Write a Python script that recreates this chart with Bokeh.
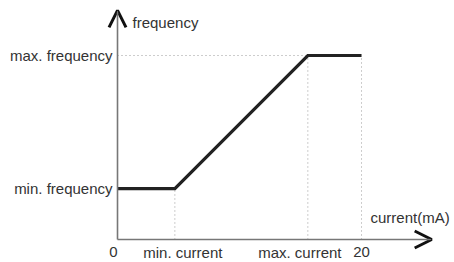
from bokeh.plotting import figure
from bokeh.models import Arrow, OpenHead, Range1d
from bokeh.core.properties import value
from bokeh.embed import file_html
from bokeh.resources import INLINE

# ---- data (diagram units: current in mA, frequency in % of max) ----
min_current = 4.7
max_current = 15.6
full_scale = 20
min_freq = 27.7
max_freq = 100

curve_x = [0, min_current, max_current, full_scale]
curve_y = [min_freq, min_freq, max_freq, max_freq]

x_tick_pos = [0, min_current, max_current, full_scale]
x_tick_labels = ["0", "min. current", "max. current", "20"]
y_tick_pos = [min_freq, max_freq]
y_tick_labels = ["min. frequency", "max. frequency"]

FONT = "Liberation Sans"
TXT = "#333333"

p = figure(width=454, height=262, output_backend="svg", toolbar_location=None,
           min_border=0, x_range=Range1d(-9.59, 27.62), y_range=Range1d(-12.5, 129.89))
p.axis.visible = False
p.grid.visible = False
p.outline_line_color = None
p.background_fill_color = "white"
p.border_fill_color = "white"

# guide (dotted) lines
p.segment(x0=[0, max_current, full_scale, min_current],
          y0=[max_freq, 0, 0, 0],
          x1=[max_current, max_current, full_scale, min_current],
          y1=[max_freq, max_freq, max_freq, min_freq],
          line_color="#9a9a9a", line_width=1, line_dash="1 3")

# axes with arrows
p.add_layout(Arrow(x_start=0, y_start=0, x_end=25.75, y_end=0,
                   line_color="#777777", line_width=1.6,
                   end=OpenHead(size=17, line_width=3, line_color="#111111")))
p.add_layout(Arrow(x_start=0, y_start=0, x_end=0, y_end=124.5,
                   line_color="#777777", line_width=1.6,
                   end=OpenHead(size=17, line_width=3, line_color="#111111")))

# characteristic curve
p.line(curve_x, curve_y, line_color="#222222", line_width=3.2, line_join="miter")

# y labels
p.text(x=[0] * len(y_tick_pos), y=y_tick_pos, text=y_tick_labels, x_offset=-5,
       text_align="right", text_baseline="middle", text_font=value(FONT),
       text_font_size="15px", text_color=TXT)

# x labels
p.text(x=x_tick_pos, y=[0] * len(x_tick_pos), text=x_tick_labels,
       x_offset=[-4, 8, -8, 0], y_offset=13,
       text_align="center", text_baseline="middle", text_font=value(FONT),
       text_font_size="15px", text_color=TXT)

# axis titles
p.text(x=[0], y=[max_freq], text=["frequency"], x_offset=15, y_offset=-33,
       text_align="left", text_baseline="middle", text_font=value(FONT),
       text_font_size="15px", text_color=TXT)
p.text(x=[full_scale], y=[0], text=["current(mA)"], x_offset=9, y_offset=-22,
       text_align="left", text_baseline="middle", text_font=value(FONT),
       text_font_size="15px", text_color=TXT)

open("out.html", "w").write(file_html(p, INLINE))
